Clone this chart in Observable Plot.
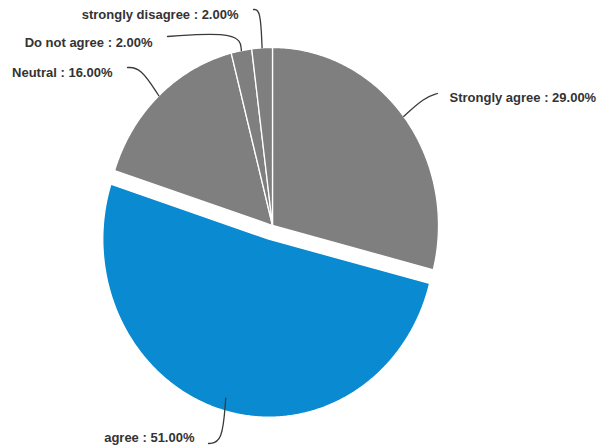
<!DOCTYPE html>
<html>
<head>
<meta charset="utf-8">
<script src="https://cdn.jsdelivr.net/npm/d3@7"></script>
<script src="https://cdn.jsdelivr.net/npm/@observablehq/plot@0.6"></script>
<style>
  html, body { margin: 0; padding: 0; background: #ffffff; }
  #chart { width: 597px; height: 446px; }
</style>
</head>
<body>
<div id="chart"></div>
<script>
// ---- data ----
const categories = ["Strongly agree", "agree", "Neutral", "Do not agree", "strongly disagree"];
const percents = [29, 51, 16, 2, 2];
const exploded = ["agree"];

// ---- styles / layout ----
const sliceColors = {"Strongly agree": "#7f7f7f", "agree": "#0a8bd1", "Neutral": "#7f7f7f", "Do not agree": "#7f7f7f", "strongly disagree": "#7f7f7f"};
const W = 597, H = 446;
const view = {cx: 272, cy: 225, rx: 166, ry: 178};   // pixel centre and radii of the pie
const explodeDist = 0.08;                              // in radius units
// leader layout in pixels: control point, end point, label anchor, text anchor, leader start radius
const labelLayout = {
  "Strongly agree":    {ctrl: [424, 97],  end: [437, 93],  text: [449, 97],  anchor: "start", r0: 1.0},
  "agree":             {ctrl: [222, 442], end: [208, 443], text: [194, 437], anchor: "end",   r0: 0.93},
  "Neutral":           {ctrl: [140, 67],  end: [127, 67],  text: [112, 72],  anchor: "end",   r0: 1.0},
  "Do not agree":      {ctrl: [239, 31],  end: [167, 36],  text: [152, 42],  anchor: "end",   r0: 1.0},
  "strongly disagree": {ctrl: [260, 9],   end: [253, 9],   text: [238, 14],  anchor: "end",   r0: 1.0}
};

const ux = px => (px - view.cx) / view.rx;
const uy = py => (view.cy - py) / view.ry;

// ---- geometry in unit coordinates ----
const total = d3.sum(percents);
let cum = 0;
const slices = categories.map((c, i) => {
  const a0 = cum / total * 2 * Math.PI;
  cum += percents[i];
  const a1 = cum / total * 2 * Math.PI;
  const mid = (a0 + a1) / 2;
  const off = exploded.includes(c) ? explodeDist : 0;
  const ox = off * Math.sin(mid), oy = off * Math.cos(mid);
  const pts = [{x: ox, y: oy}];
  const n = Math.max(4, Math.ceil((a1 - a0) / (Math.PI / 360)));
  for (let k = 0; k <= n; k++) {
    const a = a0 + (a1 - a0) * k / n;
    pts.push({x: ox + Math.sin(a), y: oy + Math.cos(a)});
  }
  pts.push({x: ox, y: oy});
  const L = labelLayout[c];
  const leader = [
    {x: ox + L.r0 * Math.sin(mid), y: oy + L.r0 * Math.cos(mid)},
    {x: ux(L.ctrl[0]), y: uy(L.ctrl[1])},
    {x: ux(L.end[0]), y: uy(L.end[1])}
  ];
  return {cat: c, pct: percents[i], pts, leader,
          label: `${c} : ${percents[i].toFixed(2)}%`,
          lx: ux(L.text[0]), ly: uy(L.text[1]), anchor: L.anchor};
});

const marks = [];
for (const s of slices) {
  marks.push(Plot.line(s.pts, {x: "x", y: "y", fill: sliceColors[s.cat], stroke: "white", strokeWidth: 1.3, strokeLinejoin: "round", curve: "linear"}));
}
for (const s of slices) {
  marks.push(Plot.line(s.leader, {x: "x", y: "y", stroke: "#3a3a3a", strokeWidth: 1.3, curve: "basis"}));
}
const textOpts = {x: "lx", y: "ly", text: "label", fill: "#333333", fontSize: 13, fontWeight: "bold",
                  fontFamily: "'Liberation Sans', Arial, sans-serif", lineAnchor: "middle"};
marks.push(Plot.text(slices.filter(s => s.anchor === "start"), {...textOpts, textAnchor: "start"}));
marks.push(Plot.text(slices.filter(s => s.anchor === "end"), {...textOpts, textAnchor: "end"}));

const chart = Plot.plot({
  width: W, height: H,
  margin: 0,
  x: {axis: null, domain: [ux(0), ux(W)], range: [0, W]},
  y: {axis: null, domain: [uy(H), uy(0)], range: [H, 0]},
  style: {background: "white", overflow: "visible"},
  marks
});
document.getElementById("chart").appendChild(chart);
</script>
</body>
</html>
